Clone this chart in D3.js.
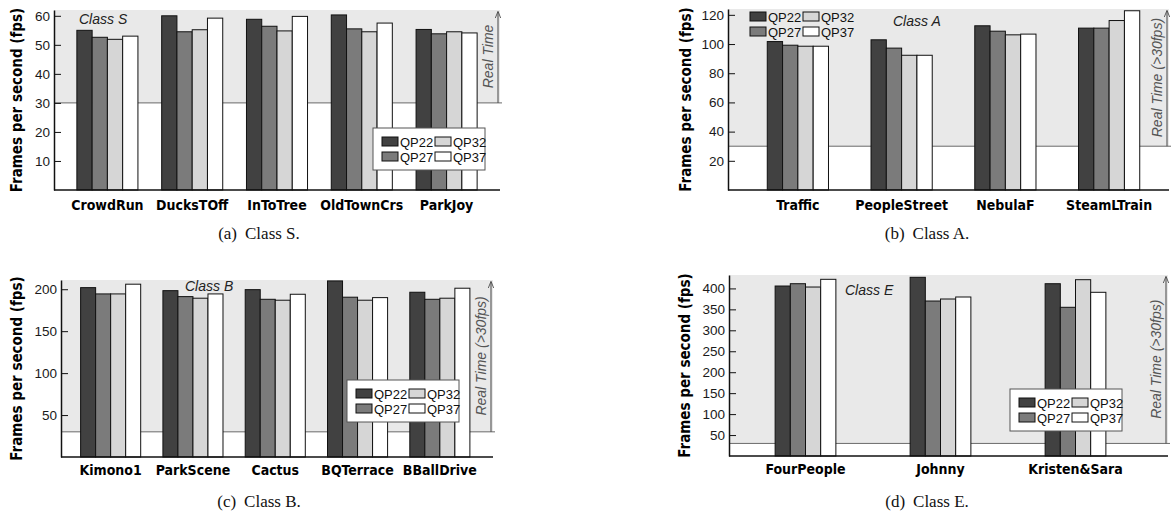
<!DOCTYPE html>
<html>
<head>
<meta charset="utf-8">
<script src="https://cdn.jsdelivr.net/npm/d3@7/dist/d3.min.js"></script>
<style>
body{margin:0;background:#fff;}
svg{display:block;}
.tick text{font-family:"Liberation Sans",Arial,sans-serif;font-size:13.5px;fill:#1a1a1a;}
.cat{font-family:"DejaVu Sans Condensed","DejaVu Sans",sans-serif;font-weight:bold;font-stretch:condensed;font-size:14px;fill:#000;}
.ylab{font-family:"DejaVu Sans Condensed","DejaVu Sans",sans-serif;font-weight:bold;font-stretch:condensed;font-size:15px;fill:#000;}
.cls{font-family:"Liberation Sans",Arial,sans-serif;font-style:italic;font-size:14px;fill:#222;}
.rt{font-family:"Liberation Sans",Arial,sans-serif;font-style:italic;font-size:14px;fill:#555;}
.leg{font-family:"Liberation Sans",Arial,sans-serif;font-size:13px;fill:#111;}
.cap{font-family:"Liberation Serif","Times New Roman",serif;font-size:17px;fill:#111;}
</style>
</head>
<body>
<script>
window.onload=function(){
	// data
	var seriesNames=["QP22","QP27","QP32","QP37"];
	var realTimeFps=30;

	var classSCats=["CrowdRun","DucksTOff","InToTree","OldTownCrs","ParkJoy"];
	var classSFps=[[55,52.6,51.9,53],[60,54.5,55.2,59.2],[58.8,56.4,54.8,59.8],[60.3,55.5,54.5,57.5],[55.3,53.8,54.5,54.1]];
	var classSTicks=[10,20,30,40,50,60];

	var classACats=["Traffic","PeopleStreet","NebulaF","SteamLTrain"];
	var classAFps=[[101.7,99.2,98.5,98.5],[102.9,97.2,92.3,92.3],[112.5,108.8,106.3,106.8],[110.9,110.9,116.1,122.8]];
	var classATicks=[20,40,60,80,100,120];

	var classBCats=["Kimono1","ParkScene","Cactus","BQTerrace","BBallDrive"];
	var classBFps=[[201.9,194.4,194.4,206],[198.3,191.2,189.3,194.4],[199.5,188,186.9,194],[209.9,190.5,186.9,190],[196.4,188,189.3,201.2]];
	var classBTicks=[50,100,150,200];

	var classECats=["FourPeople","Johnny","Kristen&Sara"];
	var classEFps=[[405.7,411.2,403.3,421.7],[426.5,369.9,374.7,379.5],[411.2,354.9,420.8,390.7]];
	var classETicks=[50,100,150,200,250,300,350,400];

	var fill=d3.scaleOrdinal().domain(seriesNames).range(["#414141","#7b7b7b","#d6d6d6","#ffffff"]);

	var panels=[
		{title:"Class S",tx:79,ty:24,tag:"(a)",capText:"Class S.",cx:259,cy:239,cats:classSCats,fps:classSFps,ticks:classSTicks,
		 yMax:62,left:54,right:500,zero:190,top:10,bandL:65,bandR:489,pad:0.28,ylx:22,rtText:"Real Time",
		 leg:{x:373,y:128,box:true},catY:209.5},
		{title:"Class A",tx:893,ty:26,tag:"(b)",capText:"Class A.",cx:927,cy:239,cats:classACats,fps:classAFps,ticks:classATicks,
		 yMax:124,left:728,right:1169,zero:190,top:9,bandL:746,bandR:1161,pad:0.41,ylx:691,rtText:"Real Time (>30fps)",
		 leg:{x:741,y:3,box:false},catY:210},
		{title:"Class B",tx:185,ty:291,tag:"(c)",capText:"Class B.",cx:259,cy:507,cats:classBCats,fps:classBFps,ticks:classBTicks,
		 yMax:211,left:61,right:493,zero:457,top:280,bandL:69.5,bandR:481,pad:0.27,ylx:22,rtText:"Real Time (>30fps)",
		 leg:{x:347,y:380,box:true},catY:475},
		{title:"Class E",tx:845,ty:295,tag:"(d)",capText:"Class E.",cx:927,cy:507,cats:classECats,fps:classEFps,ticks:classETicks,
		 yMax:432,left:729,right:1168,zero:456,top:275,bandL:738,bandR:1143,pad:0.55,ylx:690,rtText:"Real Time (>30fps)",
		 leg:{x:1010,y:389,box:true},catY:474}
	];

	var svg=d3.select("body").append("svg").attr("width",1173).attr("height",517);
	var defs=svg.append("defs");
	defs.append("marker").attr("id","arr").attr("viewBox","0 0 10 10").attr("refX",9).attr("refY",5)
		.attr("markerWidth",7).attr("markerHeight",9).attr("orient","auto")
		.append("path").attr("d","M0,1 L10,5 L0,9").attr("fill","none").attr("stroke","#444").attr("stroke-width",1.2);

	panels.forEach(function(p){
		var g=svg.append("g");
		var y=d3.scaleLinear().domain([0,p.yMax]).range([p.zero,p.top]);
		var x=d3.scaleBand().domain(p.cats).range([p.bandL,p.bandR]).paddingInner(p.pad).paddingOuter(p.pad/2);
		var xs=d3.scaleBand().domain(seriesNames).range([0,x.bandwidth()]);
		var y30=y(realTimeFps);

		// real-time zone
		g.append("rect").attr("x",p.left).attr("y",p.top).attr("width",p.right-p.left).attr("height",y30-p.top).attr("fill","#e9e9e9");
		g.append("line").attr("x1",p.left).attr("x2",p.right+2).attr("y1",y30).attr("y2",y30).attr("stroke","#6a6a6a").attr("stroke-width",1);

		// bars
		g.selectAll("g.grp").data(p.fps).join("g").attr("class","grp")
			.attr("transform",function(d,i){return "translate("+x(p.cats[i])+",0)";})
			.selectAll("rect").data(function(d){return d.map(function(v,j){return {s:seriesNames[j],v:v};});}).join("rect")
				.attr("x",function(d){return xs(d.s);})
				.attr("y",function(d){return y(d.v);})
				.attr("width",xs.bandwidth())
				.attr("height",function(d){return y(0)-y(d.v);})
				.attr("fill",function(d){return fill(d.s);})
				.attr("stroke","#111").attr("stroke-width",1);

		// axes
		var ya=g.append("g").attr("transform","translate("+p.left+",0)")
			.call(d3.axisLeft(y).tickValues(p.ticks).tickSizeInner(-7).tickSizeOuter(0).tickPadding(4));
		ya.select(".domain").attr("stroke","#111").attr("stroke-width",1.5);
		ya.selectAll(".tick line").attr("stroke","#111");
		g.append("line").attr("x1",p.left).attr("x2",p.right).attr("y1",p.zero).attr("y2",p.zero).attr("stroke","#111").attr("stroke-width",1.5);

		g.selectAll("text.cat").data(p.cats).join("text").attr("class","cat")
			.attr("x",function(d){return x(d)+x.bandwidth()/2;}).attr("y",p.catY).attr("text-anchor","middle").text(function(d){return d;});

		g.append("text").attr("class","ylab").attr("text-anchor","middle")
			.attr("transform","translate("+p.ylx+","+((p.top+p.zero)/2)+") rotate(-90)").text("Frames per second (fps)");

		g.append("text").attr("class","cls").attr("x",p.tx).attr("y",p.ty).text(p.title);

		// real-time arrow
		g.append("line").attr("x1",p.right-2).attr("x2",p.right-2).attr("y1",y30).attr("y2",p.top+2)
			.attr("stroke","#444").attr("stroke-width",1).attr("marker-end","url(#arr)");
		g.append("text").attr("class","rt").attr("text-anchor","middle")
			.attr("transform","translate("+(p.right-7)+","+((p.top+y30)/2)+") rotate(-90)").text(p.rtText);

		// legend
		var lg=g.append("g").attr("transform","translate("+p.leg.x+","+p.leg.y+")");
		if(p.leg.box) lg.append("rect").attr("width",112).attr("height",42).attr("fill","#fff").attr("stroke","#555").attr("stroke-width",1);
		var it=lg.selectAll("g.it").data([0,2,1,3]).join("g").attr("class","it")
			.attr("transform",function(d,i){return "translate("+(9+(i%2)*53)+","+(9+Math.floor(i/2)*15)+")";});
		it.append("rect").attr("width",16).attr("height",9).attr("fill",function(d){return fill(seriesNames[d]);}).attr("stroke","#111");
		it.append("text").attr("class","leg").attr("x",18).attr("y",9.5).text(function(d){return seriesNames[d];});

		// caption
		var cap=svg.append("text").attr("class","cap").attr("x",p.cx).attr("y",p.cy).attr("text-anchor","middle");
		cap.append("tspan").text(p.tag);
		cap.append("tspan").attr("dx",8).text(p.capText);
	});
};
</script>
</body>
</html>
